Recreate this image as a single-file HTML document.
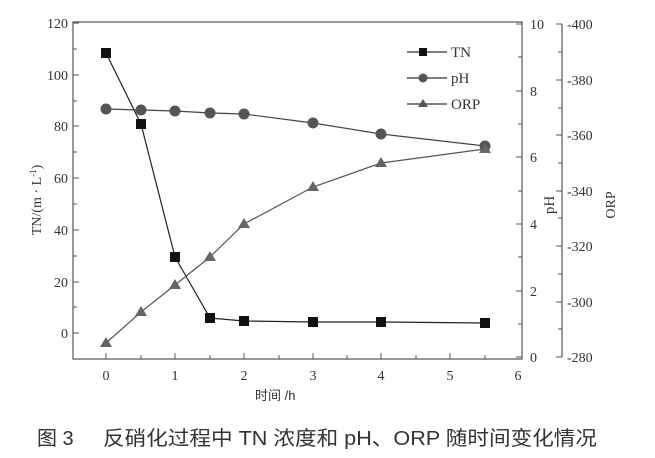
<!DOCTYPE html>
<html><head><meta charset="utf-8"><style>
body{margin:0;background:#fff;}
svg{display:block;}
text{font-family:"Liberation Serif",serif;fill:#333;}
.cjk{font-family:"Liberation Sans","Noto Sans CJK SC",sans-serif;}
</style></head><body>
<svg width="655" height="458" viewBox="0 0 655 458" xmlns="http://www.w3.org/2000/svg">
<g stroke="#555" stroke-width="1.2" fill="none">
<rect x="73" y="22" width="449" height="337"/>
<line x1="562" y1="24" x2="562" y2="357"/>
</g>
<g stroke="#555" stroke-width="1">
<path d="M73 23h6M73 49h4M73 75h6M73 101h4M73 126h6M73 152h4M73 178h6M73 204h4M73 230h6M73 256h4M73 282h6M73 307h4M73 333h6"/>
<path d="M106 359v-6M141 359v-4M175 359v-6M210 359v-4M244 359v-6M279 359v-4M313 359v-6M347 359v-4M381 359v-6M416 359v-4M450 359v-6M485 359v-4"/>
<path d="M522 24h-6M522 57h-4M522 91h-6M522 124h-4M522 157h-6M522 191h-4M522 224h-6M522 257h-4M522 291h-6M522 324h-4M522 357h-6"/>
<path d="M562 24h-6M562 52h-4M562 80h-6M562 108h-4M562 135h-6M562 163h-4M562 191h-6M562 218h-4M562 246h-6M562 274h-4M562 302h-6M562 329h-4M562 357h-6"/>
</g>
<g font-size="14" text-anchor="end">
<text x="68" y="28">120</text><text x="68" y="80">100</text><text x="68" y="131">80</text><text x="68" y="183">60</text><text x="68" y="235">40</text><text x="68" y="287">20</text><text x="68" y="338">0</text>
</g>
<g font-size="14" text-anchor="middle">
<text x="106" y="380">0</text><text x="175" y="380">1</text><text x="244" y="380">2</text><text x="313" y="380">3</text><text x="381" y="380">4</text><text x="450" y="380">5</text><text x="518" y="380">6</text>
</g>
<g font-size="14">
<text x="530" y="29">10</text><text x="530" y="96">8</text><text x="530" y="162">6</text><text x="530" y="229">4</text><text x="530" y="296">2</text><text x="530" y="362">0</text>
<text x="567" y="29">-400</text><text x="567" y="85">-380</text><text x="567" y="140">-360</text><text x="567" y="196">-340</text><text x="567" y="251">-320</text><text x="567" y="307">-300</text><text x="567" y="362">-280</text>
</g>
<text font-size="14" transform="translate(41,200) rotate(-90)" text-anchor="middle">TN/(m · L<tspan font-size="9" dy="-5">-1</tspan><tspan dy="5">)</tspan></text>
<text font-size="15" transform="translate(554,205) rotate(-90)" text-anchor="middle">pH</text>
<text font-size="14" transform="translate(615,205) rotate(-90)" text-anchor="middle">ORP</text>
<text class="cjk" font-size="13" x="255" y="400">时间 /h</text>
<text class="cjk" font-size="20" x="37" y="445" fill="#222">图 3</text>
<text class="cjk" font-size="20" x="103" y="445" fill="#222" textLength="494" lengthAdjust="spacingAndGlyphs">反硝化过程中 TN 浓度和 pH、ORP 随时间变化情况</text>
<polyline fill="none" stroke="#222" stroke-width="1.2" points="106,53 141,124 175,257 210,318 244,321 313,322 381,322 485,323"/>
<polyline fill="none" stroke="#444" stroke-width="1.2" points="106,109 141,110 175,111 210,113 244,114 313,123 381,134 485,146"/>
<polyline fill="none" stroke="#555" stroke-width="1.2" points="106,343 141,312 175,285 210,257 244,224 313,187 381,163 485,149"/>
<g fill="#111">
<rect x="101" y="48" width="10" height="10"/><rect x="136" y="119" width="10" height="10"/><rect x="170" y="252" width="10" height="10"/><rect x="205" y="313" width="10" height="10"/><rect x="239" y="316" width="10" height="10"/><rect x="308" y="317" width="10" height="10"/><rect x="376" y="317" width="10" height="10"/><rect x="480" y="318" width="10" height="10"/>
</g>
<g fill="#555">
<circle cx="106" cy="109" r="5.5"/><circle cx="141" cy="110" r="5.5"/><circle cx="175" cy="111" r="5.5"/><circle cx="210" cy="113" r="5.5"/><circle cx="244" cy="114" r="5.5"/><circle cx="313" cy="123" r="5.5"/><circle cx="381" cy="134" r="5.5"/><circle cx="485" cy="146" r="5.5"/>
</g>
<g fill="#666">
<path d="M106 337l6 10h-12z"/><path d="M141 306l6 10h-12z"/><path d="M175 279l6 10h-12z"/><path d="M210 251l6 10h-12z"/><path d="M244 218l6 10h-12z"/><path d="M313 181l6 10h-12z"/><path d="M381 157l6 10h-12z"/><path d="M485 143l6 10h-12z"/>
</g>
<g stroke="#333" stroke-width="1.2"><path d="M407 52h40M407 78h40M407 104h40"/></g>
<rect x="419" y="48" width="8" height="8" fill="#111"/>
<circle cx="423" cy="78" r="4.5" fill="#555"/>
<path d="M423 99l5 8h-10z" fill="#555"/>
<g font-size="15"><text x="451" y="57">TN</text><text x="451" y="83">pH</text><text x="451" y="109">ORP</text></g>
</svg>
</body></html>
